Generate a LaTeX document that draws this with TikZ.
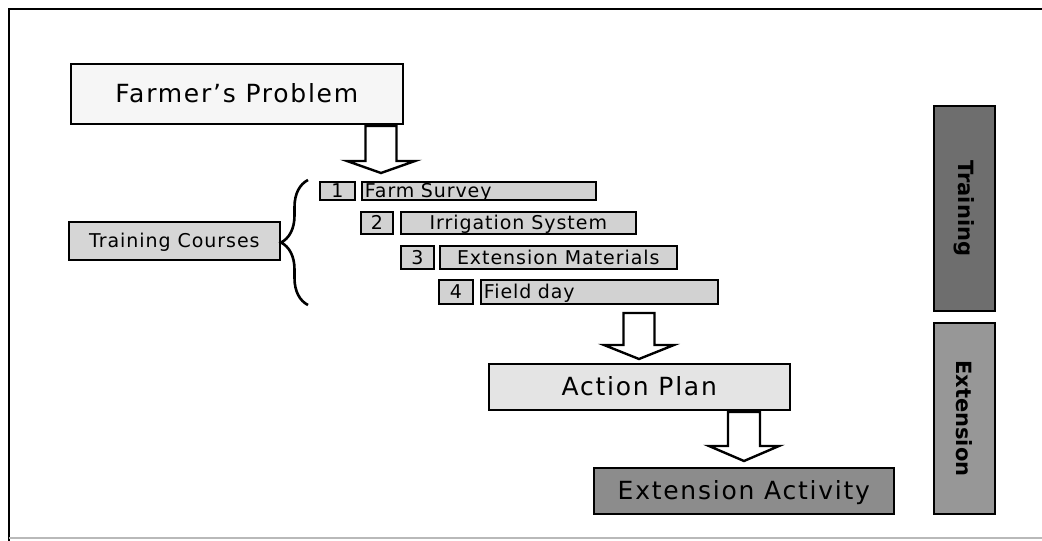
\documentclass[tikz,border=0pt]{standalone}
\usepackage{fontspec}
\setmainfont{DejaVu Sans}
\newfontfamily\spaced[LetterSpace=5]{DejaVu Sans}
\newfontfamily\wspaced[LetterSpace=7]{DejaVu Sans}
\usetikzlibrary{calc,decorations.pathreplacing}
\definecolor{cfarmer}{HTML}{F6F6F6}
\definecolor{ccourse}{HTML}{D6D6D6}
\definecolor{citem}{HTML}{D2D2D2}
\definecolor{caction}{HTML}{E4E4E4}
\definecolor{cactivity}{HTML}{8C8C8C}
\definecolor{ctrain}{HTML}{6E6E6E}
\definecolor{cext}{HTML}{979797}
\newcommand\blockarr[5]{% top, tip, shaft half, head half, head length
  \draw[barrow] ($(#1)+(-#3,0)$) -- ($(#1)+(#3,0)$) -- ($(#2)+(#3,-#5)$) -- ($(#2)+(#4,-#5)$)
    -- (#2) -- ($(#2)+(-#4,-#5)$) -- ($(#2)+(-#3,-#5)$) -- cycle;}
\begin{document}
\begin{tikzpicture}[x=1pt,y=-1pt,
  box/.style={draw=black, line width=1.6pt, inner sep=0pt, anchor=north west},
  bigtext/.style={font=\wspaced\fontsize{25}{30}\selectfont, text height=18.2pt, text depth=0pt},
  midtext/.style={font=\spaced\fontsize{19}{23}\selectfont, text height=13.9pt, text depth=0pt},
  lefttext/.style={align=left, inner xsep=3pt, text width=#1},
  barrow/.style={draw=black, fill=white, line width=2.4pt, line join=miter},
  sidebox/.style={draw=black, line width=1.6pt, anchor=north west, inner sep=0pt},
  sidetext/.style={font=\bfseries\fontsize{21}{25}\selectfont, rotate=-90}]
\useasboundingbox (0,0) rectangle (1042,541);
\fill[white] (0,0) rectangle (1042,541);
% frame
\draw[line width=2pt] (9,541) -- (9,9) -- (1042,9);
\draw[gray!55, line width=1.5pt] (9,538) -- (1042,538);

% main boxes
\node[box, fill=cfarmer, bigtext, minimum width=332pt, minimum height=60pt] (farmer) at (70,63) {Farmer’s Problem};
\node[box, fill=ccourse, midtext, minimum width=211pt, minimum height=38pt] (courses) at (68,221) {Training Courses};

% numbered items
\node[box, fill=citem, midtext, minimum width=35pt, minimum height=18pt] (n1) at (319,181) {1};
\node[box, fill=citem, midtext, minimum height=18pt, lefttext=228pt] (i1) at (361,181) {Farm Survey};
\node[box, fill=citem, midtext, minimum width=32pt, minimum height=22pt] (n2) at (360,211) {2};
\node[box, fill=citem, midtext, minimum width=235pt, minimum height=22pt] (i2) at (400,211) {Irrigation System};
\node[box, fill=citem, midtext, minimum width=33pt, minimum height=23pt] (n3) at (400,245) {3};
\node[box, fill=citem, midtext, minimum width=237pt, minimum height=23pt] (i3) at (439,245) {Extension Materials};
\node[box, fill=citem, midtext, minimum width=34pt, minimum height=24pt] (n4) at (438,279) {4};
\node[box, fill=citem, midtext, minimum height=24pt, lefttext=231pt] (i4) at (480,279) {Field day};

\node[box, fill=caction, bigtext, minimum width=301pt, minimum height=46pt] (action) at (488,363) {Action Plan};
\node[box, fill=cactivity, bigtext, minimum width=300pt, minimum height=46pt] (activity) at (593,467) {Extension Activity};

% side bars
\node[sidebox, fill=ctrain, minimum width=61pt, minimum height=205pt] (sidetr) at (933,105) {};
\node[sidetext] (sidetrtext) at (sidetr.center) {Training};
\node[sidebox, fill=cext, minimum width=61pt, minimum height=191pt] (sideex) at (933,322) {};
\node[sidetext] (sideextext) at (sideex.center) {Extension};

% brace
\coordinate (brb) at (308,305);
\coordinate (brt) at (308,180);
\draw[line width=2.6pt, decorate, decoration={brace, amplitude=27pt}] (brb) -- (brt);

% block arrows
\coordinate (a1top) at (381,126);
\coordinate (a1tip) at (381,173);
\blockarr{a1top}{a1tip}{15.5}{34}{12}
\coordinate (a2top) at (639,313);
\coordinate (a2tip) at (639,359);
\blockarr{a2top}{a2tip}{15.5}{35}{14}
\coordinate (a3top) at (744,412);
\coordinate (a3tip) at (744,461);
\blockarr{a3top}{a3tip}{16}{35}{15}
\end{tikzpicture}
\end{document}
